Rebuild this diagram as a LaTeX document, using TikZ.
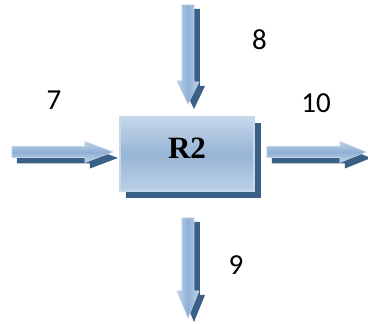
\documentclass[tikz,border=0pt]{standalone}
\usepackage{fontspec}
\setmainfont{Carlito}
\newfontfamily\serifbold{Liberation Serif}
\definecolor{arrowedge}{HTML}{BFD2E8}
\definecolor{arrowmid}{HTML}{8FB0D5}
\definecolor{shadowblue}{HTML}{3A6087}
\definecolor{boxtop}{HTML}{C6D7EA}
\definecolor{boxmid}{HTML}{97B5D6}
\definecolor{boxbot}{HTML}{BCD0E6}
\definecolor{boxline}{HTML}{C8D8EC}
\tikzset{
  arrowshadow/.style={fill=shadowblue},
  harrow/.style={top color=arrowedge, bottom color=arrowedge, middle color=arrowmid, draw=arrowedge, line width=0.6pt},
  varrow/.style={left color=arrowedge, right color=arrowedge, middle color=arrowmid, draw=arrowedge, line width=0.6pt},
  label/.style={font=\fontsize{29}{32}\selectfont, text=black, inner sep=0pt},
  boxstyle/.style={draw=boxline, line width=1.6pt, top color=boxtop, bottom color=boxbot, middle color=boxmid,
     minimum width=134pt, minimum height=74pt, inner sep=0pt}
}
\begin{document}
\begin{tikzpicture}[x=1pt,y=-1pt]
\useasboundingbox (0,0) rectangle (368,324);
% box shadow and box
\fill[shadowblue] (126,123) rectangle (261,198);
\node[boxstyle] (R2) at (187,154) {};
\node[inner sep=0pt, font=\serifbold\bfseries\fontsize{31}{34}\selectfont] (R2t) at (187,148) {R2};
% top arrow (8)
\coordinate (a8s) at (188,5);
\coordinate (a8e) at (188,104);
\fill[arrowshadow] (194,9) ++(-6,0) -- ++(12,0) -- ++(0,77) -- ++(5,0) -- ++(-11,23) -- ++(-11,-23) -- ++(5,0) -- cycle;
\path[varrow] (a8s) ++(-6,0) -- ++(12,0) -- ++(0,77) -- ++(5,0) -- (a8e) -- ++(-11,-23) -- ++(5,0) -- cycle;
% bottom arrow (9)
\coordinate (a9s) at (188,218);
\coordinate (a9e) at (188,318);
\fill[arrowshadow] (194,222) ++(-6,0) -- ++(12,0) -- ++(0,73) -- ++(5,0) -- ++(-11,27) -- ++(-11,-27) -- ++(5,0) -- cycle;
\path[varrow] (a9s) ++(-6,0) -- ++(12,0) -- ++(0,73) -- ++(5,0) -- (a9e) -- ++(-11,-27) -- ++(5,0) -- cycle;
% left arrow (7)
\coordinate (a7s) at (12,152);
\coordinate (a7e) at (113,152);
\fill[arrowshadow] (17,158) ++(0,-5.5) -- ++(73,0) -- ++(0,-5) -- ++(28,10.5) -- ++(-28,10.5) -- ++(0,-5) -- ++(-73,0) -- cycle;
\path[harrow] (a7s) ++(0,-5.5) -- ++(73,0) -- ++(0,-5) -- (a7e) -- ++(-28,10.5) -- ++(0,-5) -- ++(-73,0) -- cycle;
% right arrow (10)
\coordinate (a10s) at (267,152);
\coordinate (a10e) at (366,152);
\fill[arrowshadow] (272,158) ++(0,-5.5) -- ++(73,0) -- ++(0,-5) -- ++(26,10.5) -- ++(-26,10.5) -- ++(0,-5) -- ++(-73,0) -- cycle;
\path[harrow] (a10s) ++(0,-5.5) -- ++(73,0) -- ++(0,-5) -- (a10e) -- ++(-26,10.5) -- ++(0,-5) -- ++(-73,0) -- cycle;
% labels
\node[label] (l7) at (54,100.5) {7};
\node[label] (l8) at (259.5,40) {8};
\node[label] (l10) at (316,103) {10};
\node[label] (l9) at (236,265.5) {9};
\end{tikzpicture}
\end{document}
